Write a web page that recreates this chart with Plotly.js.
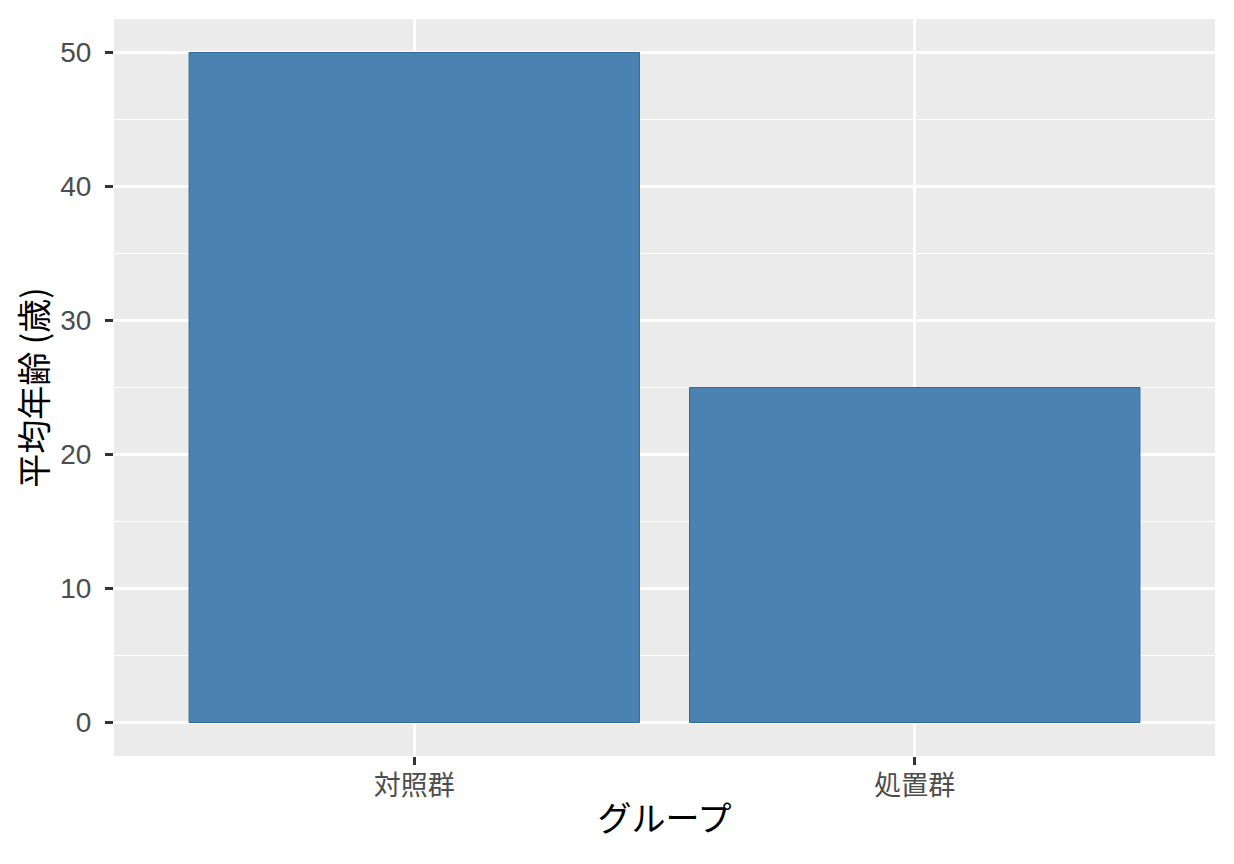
<!DOCTYPE html>
<html>
<head>
<meta charset="utf-8">
<script src="https://cdn.plot.ly/plotly-3.0.1.min.js"></script>
<style>html,body{margin:0;padding:0;background:#fff;}#chart{width:1234px;height:864px;}</style>
</head>
<body>
<div id="chart"></div>
<script>
const groups = ["対照群", "処置群"];
const meanAge = [50, 25];
const yTicks = [0, 10, 20, 30, 40, 50];

const FONT = "Liberation Sans, Arial, 'Noto Sans CJK JP', sans-serif";

const trace = {
  type: "bar",
  x: groups,
  y: meanAge,
  width: 0.9,
  marker: { color: "#4A82B2", line: { color: "#2F6B9C", width: 1 } },
  hoverinfo: "x+y"
};

const layout = {
  width: 1234,
  height: 864,
  margin: { l: 114, r: 19, t: 19, b: 108 },
  paper_bgcolor: "#ffffff",
  plot_bgcolor: "#EBEBEB",
  showlegend: false,
  font: { family: FONT, color: "#4D4D4D" },
  xaxis: {
    type: "category",
    range: [-0.6, 1.6],
    showgrid: true,
    gridcolor: "#ffffff",
    gridwidth: 2.5,
    zeroline: false,
    showline: false,
    ticks: "outside",
    ticklen: 8,
    tickwidth: 2.5,
    tickcolor: "#333333",
    ticklabelstandoff: -2,
    tickfont: { size: 27, color: "#4D4D4D", family: "'Noto Sans CJK JP', sans-serif" },
    title: { text: "グループ", font: { size: 34, color: "#000000", family: "'Noto Sans CJK JP', sans-serif" }, standoff: 4 }
  },
  yaxis: {
    range: [-2.5, 52.5],
    tickvals: yTicks,
    ticktext: yTicks.map(String),
    showgrid: true,
    gridcolor: "#ffffff",
    gridwidth: 2.5,
    zeroline: false,
    showline: false,
    ticks: "outside",
    ticklen: 8,
    tickwidth: 2.5,
    tickcolor: "#333333",
    ticklabelstandoff: 8,
    tickfont: { size: 28, color: "#4D4D4D", family: "Liberation Sans, Arial, sans-serif" },
    minor: { dtick: 5, tick0: 0, showgrid: true, gridcolor: "#ffffff", gridwidth: 1.2, ticks: "" },
    title: { text: "平均年齢 (歳)", font: { size: 34, color: "#000000", family: "'Noto Sans CJK JP', sans-serif" }, standoff: 2 }
  }
};

Plotly.newPlot("chart", [trace], layout, { displayModeBar: false, staticPlot: true });
</script>
</body>
</html>
